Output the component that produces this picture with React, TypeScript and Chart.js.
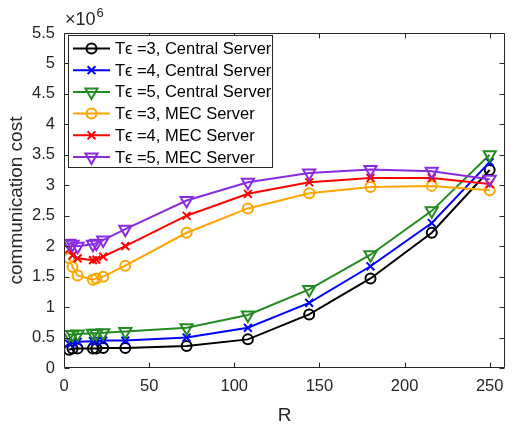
import React, { useEffect, useRef } from "react";
import { Chart, registerables } from "chart.js";

Chart.register(...registerables);

// R values (x axis)
const rValues = [3, 5, 8, 17, 19, 23, 36, 72, 108, 144, 180, 216, 250];

// communication cost, in units of 10^6
const centralT3 = [0.3, 0.32, 0.32, 0.32, 0.32, 0.33, 0.33, 0.36, 0.47, 0.88, 1.47, 2.22, 3.25];
const centralT4 = [0.4, 0.42, 0.43, 0.44, 0.44, 0.45, 0.45, 0.5, 0.66, 1.07, 1.67, 2.38, 3.38];
const centralT5 = [0.55, 0.55, 0.56, 0.57, 0.57, 0.58, 0.6, 0.66, 0.87, 1.29, 1.86, 2.58, 3.5];
const mecT3 = [1.8, 1.66, 1.52, 1.45, 1.47, 1.5, 1.68, 2.22, 2.62, 2.87, 2.97, 2.99, 2.92];
const mecT4 = [1.95, 1.85, 1.8, 1.77, 1.78, 1.83, 2.0, 2.5, 2.86, 3.05, 3.12, 3.12, 3.02];
const mecT5 = [2.05, 2.03, 2.0, 2.03, 2.05, 2.1, 2.28, 2.75, 3.05, 3.2, 3.26, 3.23, 3.1];

const seriesLabels = [
  "T\u03F5 =3, Central Server",
  "T\u03F5 =4, Central Server",
  "T\u03F5 =5, Central Server",
  "T\u03F5 =3, MEC Server",
  "T\u03F5 =4, MEC Server",
  "T\u03F5 =5, MEC Server",
];
const seriesColors = ["#000000", "#0000ff", "#228b22", "#ffa500", "#ff0000", "#8a2be2"];
const seriesMarkers = ["circle", "cross", "triangle", "circle", "cross", "triangle"];
const seriesData = [centralT3, centralT4, centralT5, mecT3, mecT4, mecT5];

const xTitle = "R";
const yTitle = "communication cost";
const exponentBase = "\u00D710";
const exponentPower = "6";

const FONT = "'Liberation Sans', Arial, Helvetica, sans-serif";
const AXIS_COLOR = "#262626";

function drawMarker(ctx: CanvasRenderingContext2D, kind: string, x: number, y: number, color: string) {
  ctx.save();
  ctx.strokeStyle = color;
  ctx.lineWidth = 2;
  ctx.beginPath();
  if (kind === "circle") {
    ctx.arc(x, y, 5, 0, Math.PI * 2);
  } else if (kind === "cross") {
    const d = 3.9;
    ctx.moveTo(x - d, y - d);
    ctx.lineTo(x + d, y + d);
    ctx.moveTo(x - d, y + d);
    ctx.lineTo(x + d, y - d);
  } else {
    const r = 7;
    ctx.moveTo(x, y + r);
    ctx.lineTo(x - r * Math.sin(Math.PI / 3), y - r / 2);
    ctx.lineTo(x + r * Math.sin(Math.PI / 3), y - r / 2);
    ctx.closePath();
  }
  ctx.stroke();
  ctx.restore();
}

const framePlugin = {
  id: "matlabFrame",
  afterDraw(chart: any) {
    const { ctx, chartArea: a, scales } = chart;
    const xs = scales.x;
    const ys = scales.y;
    ctx.save();
    ctx.strokeStyle = AXIS_COLOR;
    ctx.lineWidth = 1;
    const L = Math.round(a.left) + 0.5;
    const Rt = Math.round(a.right) - 0.5;
    const T = Math.round(a.top) + 0.5;
    const B = Math.round(a.bottom) - 0.5;
    ctx.beginPath();
    ctx.moveTo(L, T);
    ctx.lineTo(Rt, T);
    ctx.lineTo(Rt, B);
    ctx.lineTo(L, B);
    ctx.closePath();
    ctx.stroke();
    const tl = 5;
    ctx.beginPath();
    xs.ticks.forEach((t: any) => {
      const px = Math.round(xs.getPixelForValue(t.value)) + 0.5;
      ctx.moveTo(px, B);
      ctx.lineTo(px, B - tl);
      ctx.moveTo(px, T);
      ctx.lineTo(px, T + tl);
    });
    ys.ticks.forEach((t: any) => {
      const py = Math.round(ys.getPixelForValue(t.value)) + 0.5;
      ctx.moveTo(L, py);
      ctx.lineTo(L + tl, py);
      ctx.moveTo(Rt, py);
      ctx.lineTo(Rt - tl, py);
    });
    ctx.stroke();

    // axis titles
    ctx.fillStyle = AXIS_COLOR;
    ctx.font = `19px ${FONT}`;
    ctx.textAlign = "center";
    ctx.textBaseline = "middle";
    ctx.fillText(xTitle, (a.left + a.right) / 2, 416);
    ctx.save();
    ctx.translate(17, (a.top + a.bottom) / 2);
    ctx.rotate(-Math.PI / 2);
    ctx.fillText(yTitle, 0, 0);
    ctx.restore();

    // exponent
    ctx.textAlign = "left";
    ctx.textBaseline = "alphabetic";
    ctx.font = `18px ${FONT}`;
    ctx.fillText(exponentBase, 65, 25);
    const w = ctx.measureText(exponentBase).width;
    ctx.font = `13px ${FONT}`;
    ctx.fillText(exponentPower, 65 + w + 1, 17);

    // legend
    const lx = 68, ly = 35, lw = 205, lh = 133;
    ctx.fillStyle = "#ffffff";
    ctx.fillRect(lx, ly, lw, lh);
    ctx.strokeStyle = AXIS_COLOR;
    ctx.lineWidth = 1;
    ctx.strokeRect(lx + 0.5, ly + 0.5, lw - 1, lh - 1);
    ctx.font = `16.5px ${FONT}`;
    ctx.textBaseline = "middle";
    ctx.textAlign = "left";
    seriesLabels.forEach((lab, i) => {
      const cy = 48.5 + i * 21.7;
      ctx.strokeStyle = seriesColors[i];
      ctx.lineWidth = 2;
      ctx.beginPath();
      ctx.moveTo(73, cy);
      ctx.lineTo(110, cy);
      ctx.stroke();
      drawMarker(ctx, seriesMarkers[i], 91.5, cy, seriesColors[i]);
      ctx.fillStyle = "#000000";
      ctx.fillText(lab, 115, cy + 1);
    });
    ctx.restore();
  },
};

export default function App() {
  const ref = useRef<HTMLCanvasElement | null>(null);
  useEffect(() => {
    document.body.style.margin = "0";
    const canvas = ref.current;
    if (!canvas) return;
    const datasets = seriesData.map((d, i) => ({
      label: seriesLabels[i],
      data: rValues.map((r, j) => ({ x: r, y: d[j] })),
      borderColor: seriesColors[i],
      backgroundColor: "rgba(0,0,0,0)",
      borderWidth: 2,
      pointStyle: seriesMarkers[i] === "cross" ? "crossRot" : seriesMarkers[i],
      pointRotation: seriesMarkers[i] === "triangle" ? 180 : 0,
      pointRadius: seriesMarkers[i] === "triangle" ? 7 : seriesMarkers[i] === "cross" ? 5.5 : 5,
      pointBorderWidth: 2,
      pointBackgroundColor: "rgba(0,0,0,0)",
      pointBorderColor: seriesColors[i],
      tension: 0,
      order: 6 - i,
    }));
    const chart = new Chart(canvas, {
      type: "line",
      data: { datasets },
      options: {
        responsive: false,
        animation: false,
        devicePixelRatio: 1,
        layout: { padding: { top: 33, right: 1, left: 0, bottom: 0 } },
        plugins: { legend: { display: false }, tooltip: { enabled: false } },
        scales: {
          x: {
            type: "linear",
            min: 0,
            max: 259,
            grid: { display: false, drawTicks: false },
            border: { display: false },
            ticks: {
              stepSize: 50,
              includeBounds: false,
              padding: 9,
              maxRotation: 0,
              color: AXIS_COLOR,
              font: { size: 16.5, family: FONT },
              callback: (v: any) => String(Number(v)),
            },
            afterFit: (s: any) => {
              s.height = 58;
            },
          },
          y: {
            type: "linear",
            min: 0,
            max: 5.5,
            grid: { display: false, drawTicks: false },
            border: { display: false },
            ticks: {
              stepSize: 0.5,
              padding: 9,
              color: AXIS_COLOR,
              font: { size: 16.5, family: FONT },
              callback: (v: any) => String(Math.round(Number(v) * 10) / 10),
            },
            afterFit: (s: any) => {
              s.width = 64;
            },
          },
        },
      },
      plugins: [framePlugin],
    });
    return () => chart.destroy();
  }, []);
  return <canvas ref={ref} width={514} height={426} style={{ display: "block" }} />;
}
